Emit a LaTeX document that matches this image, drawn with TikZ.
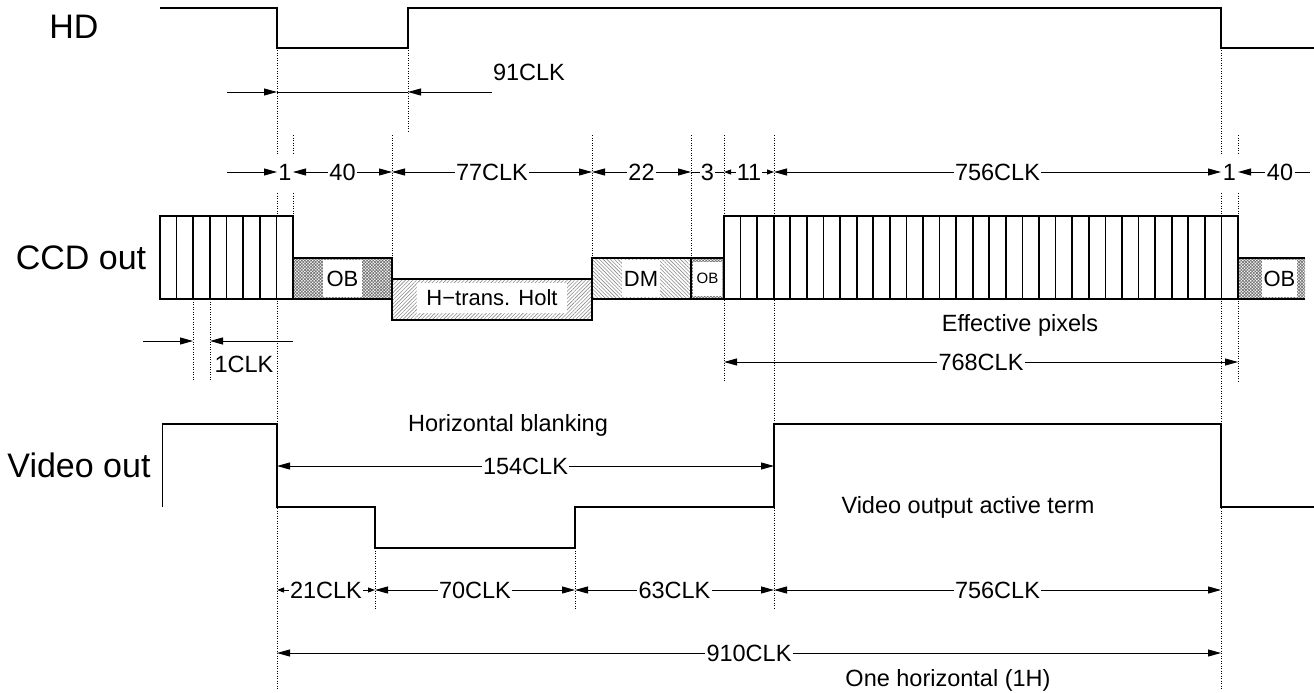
\documentclass[tikz,border=0pt]{standalone}
\usepackage{fontspec}
\setmainfont{Liberation Sans}
\usetikzlibrary{arrows.meta,patterns.meta}
\begin{document}
\begin{tikzpicture}[x=1pt,y=-1pt,
  sig/.style={line width=2pt, line join=miter},
  guide/.style={line width=0.8pt, dash pattern=on 1pt off 1.5pt},
  dimline/.style={line width=0.9pt},
  dimboth/.style={dimline, {Triangle[length=13pt,width=7pt]}-{Triangle[length=13pt,width=7pt]}},
  dimsmall/.style={dimline, {Triangle[length=7pt,width=5pt]}-{Triangle[length=7pt,width=5pt]}},
  dimto/.style={dimline, -{Triangle[length=13pt,width=7pt]}},
  lab/.style={font=\fontsize{23.5}{27}\selectfont, inner sep=1.5pt, fill=white},
  plainlab/.style={font=\fontsize{23.5}{27}\selectfont, inner sep=1pt},
  biglab/.style={font=\fontsize{34}{40}\selectfont},
  boxline/.style={line width=2pt},
  cellline/.style={line width=1.7pt},
  obfill/.style={pattern={Hatch[angle=45,distance=2.2pt,line width=0.7pt]}, pattern color=black!55},
  htfill/.style={pattern={Lines[angle=45,distance=2.6pt,line width=0.6pt]}, pattern color=black!45},
  dmfill/.style={pattern={Lines[angle=-45,distance=2.6pt,line width=0.6pt]}, pattern color=black!45},
  wlab/.style={fill=white, inner sep=0pt, font=\fontsize{22}{26}\selectfont}
]
\useasboundingbox (0,0) rectangle (1314,693);

% ---------- guides (dotted) ----------
\draw[guide] (277,48) -- (277,155);
\draw[guide] (277,193) -- (277,690);
\draw[guide] (408,48) -- (408,133);
\draw[guide] (293,135) -- (293,155);
\draw[guide] (293,193) -- (293,216);
\draw[guide] (392,135) -- (392,279);
\draw[guide] (592,135) -- (592,258);
\draw[guide] (691,135) -- (691,258);
\draw[guide] (724,135) -- (724,382);
\draw[guide] (774,135) -- (774,610);
\draw[guide] (1221,48) -- (1221,155);
\draw[guide] (1221,193) -- (1221,690);
\draw[guide] (1238,135) -- (1238,155);
\draw[guide] (1238,193) -- (1238,382);
\draw[guide] (193,299) -- (193,380);
\draw[guide] (210,299) -- (210,380);
\draw[guide] (375,548) -- (375,610);
\draw[guide] (575,548) -- (575,610);

% ---------- HD ----------
\node[biglab] (hd) at (74,27) {HD};
\draw[sig] (160,8) -- (277,8) -- (277,48) -- (408,48) -- (408,8) -- (1221,8) -- (1221,48) -- (1314,48);
\coordinate (h1) at (227,92);
\coordinate (h2) at (277,92);
\coordinate (h3) at (408,92);
\coordinate (h4) at (492,92);
\draw[dimline] (h2) -- (h3);
\draw[dimto] (h1) -- (h2);
\draw[dimto] (h4) -- (h3);
\node[plainlab] (n91) at (529,72) {91CLK};

% ---------- top dimension row ----------
\coordinate (r0) at (227,172);
\coordinate (r1) at (277,172);
\coordinate (r2) at (293,172);
\coordinate (r3) at (392,172);
\coordinate (r4) at (592,172);
\coordinate (r5) at (691,172);
\coordinate (r6) at (724,172);
\coordinate (r7) at (774,172);
\coordinate (r8) at (1221,172);
\coordinate (r9) at (1238,172);
\coordinate (r10) at (1310,172);
\draw[dimto] (r0) -- (r1);
\node[plainlab] (t1a) at (285,172) {1};
\draw[dimboth] (r2) -- (r3) node[lab, midway] (t40a) {40};
\draw[dimboth] (r3) -- (r4) node[lab, midway] (t77) {77CLK};
\draw[dimboth] (r4) -- (r5) node[lab, midway] (t22) {22};
\draw[dimline] (r5) -- (r6) node[lab, midway, inner sep=1pt] (t3) {3};
\draw[dimsmall] (r6) -- (r7) node[lab, midway, inner sep=1pt] (t11) {11};
\draw[dimboth] (r7) -- (r8) node[lab, midway] (t756a) {756CLK};
\node[plainlab] (t1b) at (1229.5,172) {1};
\draw[dimto] (r10) -- (r9);
\node[lab] (t40b) at (1280,172) {40};

% ---------- CCD out ----------
\node[biglab] (ccd) at (81,258) {CCD out};
\foreach \i in {0,...,7}
  \draw[cellline, fill=white] ({160+\i*16.625},216) rectangle ({160+(\i+1)*16.625},299);
\foreach \i in {0,...,30}
  \draw[cellline, fill=white] ({724+\i*16.58},216) rectangle ({724+(\i+1)*16.58},299);
\draw[boxline] (160,216) rectangle (293,299);
\draw[boxline] (724,216) rectangle (1238,299);

\fill[obfill] (293,258) rectangle (392,299);
\node[wlab, minimum width=39pt, minimum height=37pt] (ob1) at (342.5,278.5) {OB};
\draw[boxline] (293,258) rectangle (392,299);

\fill[htfill] (392,279) rectangle (592,320);
\node[wlab, minimum width=150pt, minimum height=30pt] (ht) at (492,298) {H−trans. Holt};
\draw[boxline] (392,279) rectangle (592,320);

\fill[dmfill] (592,258) rectangle (691,299);
\node[wlab, minimum width=38pt, minimum height=37pt] (dm) at (641,278.5) {DM};
\draw[boxline] (592,258) rectangle (691,299);

\fill[obfill] (691,258) rectangle (724,299);
\node[wlab, minimum width=29pt, minimum height=34pt, font=\fontsize{15}{18}\selectfont] (ob2) at (707.5,278.5) {OB};
\draw[boxline] (691,258) rectangle (724,299);

\fill[obfill] (1238,258) rectangle (1305,299);
\node[wlab, minimum width=35pt, minimum height=37pt] (ob3) at (1279.5,278.5) {OB};
\draw[boxline] (1305,258) -- (1238,258) -- (1238,299) -- (1305,299);

\node[plainlab] (eff) at (1020,325) {Effective pixels};

% 1CLK
\coordinate (c0) at (143,341);
\coordinate (c1) at (193,341);
\coordinate (c2) at (210,341);
\coordinate (c3) at (293,341);
\draw[dimto] (c0) -- (c1);
\draw[dimto] (c3) -- (c2);
\node[plainlab] (n1clk) at (244,364) {1CLK};

% 768CLK
\coordinate (e0) at (724,362);
\coordinate (e1) at (1238,362);
\draw[dimboth] (e0) -- (e1) node[lab, midway] (t768) {768CLK};

% ---------- Video out ----------
\node[biglab] (vid) at (79,465) {Video out};
\draw[line width=1pt] (162,424) -- (162,507);
\draw[sig] (162,424) -- (277,424) -- (277,507) -- (375,507) -- (375,548) -- (575,548) -- (575,507) -- (774,507) -- (774,424) -- (1221,424) -- (1221,507) -- (1314,507);
\node[plainlab] (hb) at (508,425) {Horizontal blanking};
\coordinate (v0) at (277,466);
\coordinate (v1) at (774,466);
\draw[dimboth] (v0) -- (v1) node[lab, midway] (t154) {154CLK};
\node[plainlab] (voat) at (968,507) {Video output active term};

% bottom row
\coordinate (b0) at (277,590);
\coordinate (b1) at (375,590);
\coordinate (b2) at (575,590);
\coordinate (b3) at (774,590);
\coordinate (b4) at (1221,590);
\draw[dimsmall] (b0) -- (b1) node[lab, midway, inner sep=1pt] (t21) {21CLK};
\draw[dimboth] (b1) -- (b2) node[lab, midway] (t70) {70CLK};
\draw[dimboth] (b2) -- (b3) node[lab, midway] (t63) {63CLK};
\draw[dimboth] (b3) -- (b4) node[lab, midway] (t756b) {756CLK};

\coordinate (w0) at (277,653);
\coordinate (w1) at (1221,653);
\draw[dimboth] (w0) -- (w1) node[lab, midway] (t910) {910CLK};
\node[plainlab] (oneh) at (948,680) {One horizontal (1H)};
\end{tikzpicture}
\end{document}
